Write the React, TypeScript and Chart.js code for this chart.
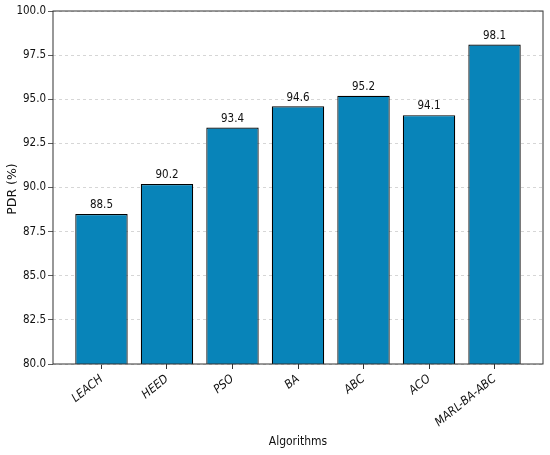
import React, { useEffect, useRef } from "react";
import { Chart, registerables } from "chart.js";

Chart.register(...registerables);

const categories = ["LEACH", "HEED", "PSO", "BA", "ABC", "ACO", "MARL-BA-ABC"];
const pdrValues = [88.5, 90.2, 93.4, 94.6, 95.2, 94.1, 98.1];
const valueLabels = ["88.5", "90.2", "93.4", "94.6", "95.2", "94.1", "98.1"];
const yTicks = [80, 82.5, 85, 87.5, 90, 92.5, 95, 97.5, 100];

const FONT = "'DejaVu Sans Condensed', 'DejaVu Sans', sans-serif";

export default function App() {
  const ref = useRef<HTMLCanvasElement | null>(null);
  useEffect(() => {
    document.body.style.margin = "0";
    const ctx = ref.current!.getContext("2d")!;
    const overlay = {
      id: "overlay",
      afterDatasetsDraw(chart: any) {
        const c = chart.ctx;
        const meta = chart.getDatasetMeta(0);
        c.save();
        c.fillStyle = "#111";
        c.font = `11.5px ${FONT}`;
        c.textAlign = "center";
        c.textBaseline = "bottom";
        meta.data.forEach((bar: any, i: number) => {
          c.fillText(valueLabels[i], bar.x, bar.y - 3);
        });
        const a = chart.chartArea;
        c.strokeStyle = "#333";
        c.lineWidth = 1;
        c.strokeRect(a.left, a.top, a.right - a.left, a.bottom - a.top);
        c.font = `12px ${FONT}`;
        c.fillStyle = "#111";
        c.textBaseline = "middle";
        c.fillText("Algorithms", (a.left + a.right) / 2, 442);
        c.font = `12.5px 'DejaVu Sans', sans-serif`;
        c.translate(13, 189);
        c.rotate(-Math.PI / 2);
        c.fillText("PDR (%)", 0, 0);
        c.restore();
      },
    };
    const chart = new Chart(ctx, {
      type: "bar",
      data: {
        datasets: [
          {
            data: pdrValues.map((v, i) => ({ x: i, y: v })),
            backgroundColor: "#0884b9",
            borderColor: "#000",
            borderWidth: 1.2,
            borderSkipped: false,
            barPercentage: 0.8,
            categoryPercentage: 1,
          },
        ],
      },
      options: {
        animation: false,
        responsive: false,
        layout: { padding: { left: 0, top: 11, right: 7, bottom: 0 } },
        plugins: { legend: { display: false }, tooltip: { enabled: false } },
        scales: {
          x: {
            type: "linear",
            offset: false,
            min: -0.74,
            max: 6.74,
            afterBuildTicks: (s: any) => {
              s.ticks = categories.map((_, i) => ({ value: i }));
            },
            afterFit: (s: any) => {
              s.height = 91;
            },
            grid: {
              offset: false,
              drawOnChartArea: false,
              drawTicks: true,
              tickLength: 5,
              tickColor: "#333",
            },
            border: { display: false },
            ticks: {
              autoSkip: false,
              maxRotation: 39,
              minRotation: 39,
              padding: 3,
              color: "#111",
              font: { family: FONT, size: 12, style: "italic" },
              callback: (v: any) => categories[v as number] ?? "",
            },
          },
          y: {
            min: 80,
            max: 100,
            afterBuildTicks: (s: any) => {
              s.ticks = yTicks.map((v) => ({ value: v }));
            },
            afterFit: (s: any) => {
              s.width = 53;
            },
            grid: {
              color: "#cccccc",
              lineWidth: 0.8,
              drawTicks: true,
              tickLength: 5,
              tickColor: "#333",
              tickBorderDash: [],
            },
            border: { display: false, dash: [3, 3] },
            ticks: {
              padding: 2,
              color: "#111",
              font: { family: FONT, size: 11.5 },
              callback: (v: any) => Number(v).toFixed(1),
            },
          },
        },
      },
      plugins: [overlay],
    });
    return () => chart.destroy();
  }, []);
  return <canvas ref={ref} width={550} height={455} style={{ display: "block" }} />;
}
